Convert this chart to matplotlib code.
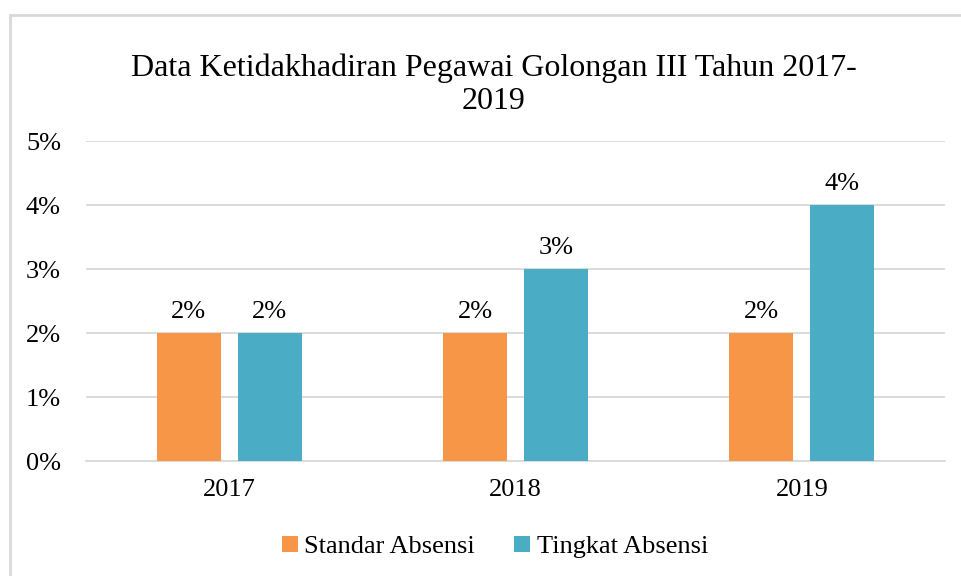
import matplotlib
matplotlib.use("Agg")
import matplotlib.pyplot as plt
from matplotlib.patches import Rectangle
import numpy as np

years = ["2017", "2018", "2019"]
standar = [0.02, 0.02, 0.02]
tingkat = [0.02, 0.03, 0.04]
yticks = [0, 0.01, 0.02, 0.03, 0.04, 0.05]
ytick_labels = ["0%", "1%", "2%", "3%", "4%", "5%"]
series_names = ["Standar Absensi", "Tingkat Absensi"]
title = "Data Ketidakhadiran Pegawai Golongan III Tahun 2017-\n2019"

plt.rcParams['font.family'] = ['Liberation Serif', 'DejaVu Serif']

W, H = 962, 576
fig = plt.figure(figsize=(W/100, H/100), dpi=100)
ax = fig.add_axes([86/W, 1-461/H, (945-86)/W, (461-141)/H])

x = np.arange(len(years))
bw = 0.224
off = 0.1415
c1, c2 = "#F79646", "#4BACC6"
b1 = ax.bar(x - off, standar, bw, color=c1, label=series_names[0], zorder=3)
b2 = ax.bar(x + off, tingkat, bw, color=c2, label=series_names[1], zorder=3)

for bars, vals in ((b1, standar), (b2, tingkat)):
    for r, v in zip(bars, vals):
        ax.text(r.get_x() + r.get_width()/2, v + 0.0015, f"{v*100:.0f}%",
                ha="center", va="bottom", fontsize=19, color="#000000")

ax.set_xlim(-0.5, 2.5)
ax.set_ylim(0, 0.05)
ax.set_yticks(yticks)
ax.set_yticklabels(ytick_labels, fontsize=19)
ax.set_xticks(x)
ax.set_xticklabels(years, fontsize=19)
ax.tick_params(axis="both", length=0)
ax.tick_params(axis="y", pad=18)
ax.tick_params(axis="x", pad=13)
ax.grid(axis="y", color="#D9D9D9", linewidth=1.3, zorder=0)
for s in ["top", "right", "left"]:
    ax.spines[s].set_visible(False)
ax.spines["bottom"].set_color("#D9D9D9")
ax.spines["bottom"].set_linewidth(1.3)

fig.text(494/W, 1-85/H, title, ha="center", va="center", fontsize=23,
         linespacing=1.2)

leg = fig.legend(handles=[b1, b2], labels=series_names, loc="center",
                 bbox_to_anchor=(495/W, 1-547/H), ncol=2, frameon=False,
                 fontsize=19, handlelength=0.6, handleheight=0.6,
                 handletextpad=0.25, columnspacing=1.5)

fig.patches.append(Rectangle((10/W, -0.05), 1.1, 1.05 - 15/H, transform=fig.transFigure,
                             fill=False, edgecolor="#D9D9D9", linewidth=2))

fig.savefig("out.png", dpi=100)
